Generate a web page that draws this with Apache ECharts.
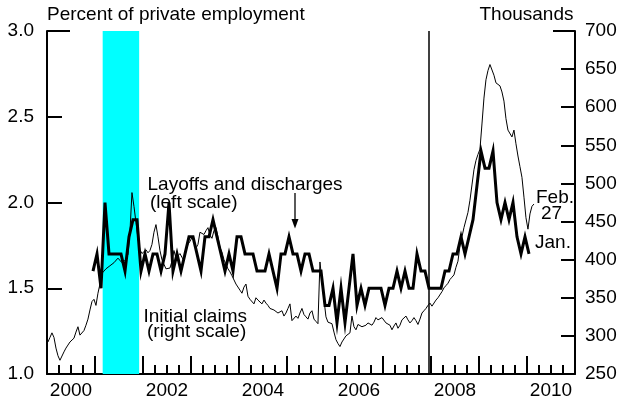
<!DOCTYPE html>
<html>
<head>
<meta charset="utf-8">
<script src="https://cdn.jsdelivr.net/npm/echarts@6/dist/echarts.min.js"></script>
<style>
  html, body { margin: 0; padding: 0; background: #fff; }
  #chart { width: 621px; height: 401px; }
</style>
</head>
<body>
<div id="chart"></div>
<script>
// year labels under the axis (every other one shown)
var years = ['2000', '2001', '2002', '2003', '2004', '2005', '2006', '2007', '2008', '2009', '2010'];

// layoffs and discharges, percent of private employment, monthly from Dec 2000
var layoffsStart = 2000 + 11.5 / 12;
var layoffs = [
  1.6,
  1.7, 1.5, 2.0, 1.7, 1.7, 1.7, 1.7, 1.6, 1.8, 1.9, 1.9, 1.6,
  1.7, 1.6, 1.7, 1.7, 1.6, 1.7, 2.0, 1.6, 1.7, 1.6, 1.7, 1.8,
  1.8, 1.7, 1.6, 1.8, 1.8, 1.9, 1.8, 1.7, 1.6, 1.7, 1.6, 1.8,
  1.8, 1.7, 1.7, 1.7, 1.6, 1.6, 1.6, 1.7, 1.6, 1.5, 1.7, 1.7,
  1.8, 1.7, 1.7, 1.6, 1.7, 1.7, 1.6, 1.6, 1.6, 1.4, 1.4, 1.5,
  1.3, 1.5, 1.3, 1.5, 1.7, 1.4, 1.5, 1.4, 1.5, 1.5, 1.5, 1.5,
  1.4, 1.5, 1.5, 1.6, 1.5, 1.6, 1.5, 1.5, 1.7, 1.6, 1.6, 1.5,
  1.5, 1.5, 1.5, 1.6, 1.6, 1.7, 1.7, 1.8, 1.7, 1.8, 1.9, 2.1,
  2.3, 2.2, 2.2, 2.3, 2.0, 1.9, 2.0, 1.9, 2.0, 1.8, 1.7, 1.8,
  1.7
];

// initial claims, thousands, twice a month from Jan 2000 to Feb 27 2010
var claimsStart = 2000.02;
var claims2000 = [292, 298, 304, 298, 284, 274, 268, 268, 279, 284, 288, 292, 294, 297, 305, 312, 301, 303, 307, 314, 322, 334, 345, 348];
var claims2001 = [340, 356, 368, 382, 385, 388, 389, 392, 390, 396, 398, 402, 404, 396, 394, 400, 407, 437, 488, 470, 449, 428, 413, 408];
var claims2002 = [410, 413, 409, 412, 420, 436, 446, 430, 412, 400, 394, 388, 386, 389, 398, 412, 402, 400, 408, 403, 399, 412, 420, 424];
var claims2003 = [429, 425, 415, 420, 436, 438, 433, 438, 442, 432, 428, 438, 442, 430, 416, 410, 400, 394, 388, 384, 379, 380, 368, 366];
var claims2004 = [360, 356, 364, 368, 352, 348, 346, 342, 350, 347, 345, 342, 347, 343, 340, 336, 338, 334, 332, 330, 328, 333, 326, 330];
var claims2005 = [336, 342, 320, 318, 326, 323, 330, 336, 328, 325, 322, 330, 333, 322, 319, 316, 397, 372, 348, 325, 318, 317, 316, 305];
var claims2006 = [295, 290, 286, 292, 296, 300, 301, 304, 326, 312, 308, 315, 315, 312, 313, 314, 317, 316, 314, 318, 324, 321, 320, 324];
var claims2007 = [322, 317, 319, 314, 308, 313, 317, 310, 314, 321, 323, 326, 321, 317, 320, 324, 320, 315, 322, 330, 333, 336, 340, 343];
var claims2008 = [339, 341, 347, 350, 352, 358, 363, 366, 369, 374, 377, 380, 390, 398, 418, 430, 442, 452, 462, 478, 498, 518, 530, 538];
var claims2009 = [545, 578, 612, 636, 648, 656, 658, 642, 632, 633, 628, 620, 608, 585, 570, 568, 561, 570, 552, 536, 522, 508, 482, 455];
var claims2010 = [440, 460, 470, 473];
var claims = [].concat(claims2000, claims2001, claims2002, claims2003, claims2004,
  claims2005, claims2006, claims2007, claims2008, claims2009, claims2010);

// recession shading and the December 2007 line
var recession = [2001.16, 2001.92];
var recessionStart2007 = 2007.96;

var layoffsData = layoffs.map(function (v, i) { return [layoffsStart + i / 12, v]; });
var claimsData = claims.map(function (v, i) { return [claimsStart + i / 24, v]; });

var FONT = 'Liberation Sans, Arial, sans-serif';
var txt = function (text, x, y, align) {
  return {
    type: 'text', x: x, y: y, silent: true,
    style: { text: text, font: '19px ' + FONT, fill: '#000', textAlign: align || 'left', textVerticalAlign: 'middle' }
  };
};

var chart = echarts.init(document.getElementById('chart'));
chart.setOption({
  animation: false,
  grid: { left: 47, right: 46, top: 31, bottom: 27 },
  xAxis: [
    {
      type: 'value', min: 2000, max: 2011, interval: 1, position: 'bottom',
      axisLine: { show: true, lineStyle: { color: '#000', width: 2 } },
      axisTick: { show: true, inside: true, length: 18, lineStyle: { color: '#000', width: 2 } },
      minorTick: { show: true, splitNumber: 4, length: 9, lineStyle: { color: '#000', width: 2 } },
      axisLabel: { show: false },
      splitLine: { show: false }
    },
    {
      type: 'category', data: years, position: 'bottom', boundaryGap: true,
      axisLine: { show: false }, axisTick: { show: false },
      axisLabel: { interval: 1, margin: 7, color: '#000', fontSize: 19, fontFamily: FONT },
      splitLine: { show: false }
    }
  ],
  yAxis: [
    {
      type: 'value', min: 1, max: 3, interval: 0.5, position: 'left',
      axisLine: { show: true, lineStyle: { color: '#000', width: 2 } },
      axisTick: { show: true, inside: true, length: 15, lineStyle: { color: '#000', width: 2 } },
      axisLabel: { margin: 13, color: '#000', fontSize: 19, fontFamily: FONT,
        formatter: function (v) { return v.toFixed(1); } },
      splitLine: { show: false }
    },
    {
      type: 'value', min: 250, max: 700, interval: 50, position: 'right',
      axisLine: { show: true, lineStyle: { color: '#000', width: 2 } },
      axisTick: { show: true, inside: true, length: 14, lineStyle: { color: '#000', width: 2 } },
      axisLabel: { margin: 10, color: '#000', fontSize: 19, fontFamily: FONT },
      splitLine: { show: false }
    }
  ],
  series: [
    {
      type: 'line', data: [], z: 1, silent: true,
      markArea: {
        silent: true,
        itemStyle: { color: '#00ffff', opacity: 1 },
        data: [[{ xAxis: recession[0] }, { xAxis: recession[1] }]]
      },
      markLine: {
        silent: true, symbol: 'none', label: { show: false },
        lineStyle: { color: '#000', width: 1.5, type: 'solid' },
        data: [{ xAxis: recessionStart2007 }]
      }
    },
    {
      name: 'Initial claims', type: 'line', xAxisIndex: 0, yAxisIndex: 1, z: 3,
      data: claimsData, showSymbol: false, silent: true,
      lineStyle: { color: '#000', width: 1 }
    },
    {
      name: 'Layoffs and discharges', type: 'line', xAxisIndex: 0, yAxisIndex: 0, z: 4,
      data: layoffsData, showSymbol: false, silent: true,
      lineStyle: { color: '#000', width: 3, join: 'miter' }
    }
  ],
  graphic: [
    txt('Percent of private employment', 47, 15),
    txt('Thousands', 573.5, 15, 'right'),
    txt('Layoffs and discharges', 147.5, 185),
    txt('(left scale)', 150, 203),
    txt('Initial claims', 143.5, 317),
    txt('(right scale)', 147, 332),
    txt('Feb.', 536, 198),
    txt('27', 541, 214),
    txt('Jan.', 535, 243),
    // longer top ticks
    { type: 'line', silent: true, shape: { x1: 47, y1: 31, x2: 70, y2: 31 }, style: { stroke: '#000', lineWidth: 2 } },
    { type: 'line', silent: true, shape: { x1: 553, y1: 31, x2: 575, y2: 31 }, style: { stroke: '#000', lineWidth: 2 } },
    // arrow to the layoffs series
    { type: 'line', silent: true, shape: { x1: 295, y1: 193, x2: 295, y2: 221 }, style: { stroke: '#000', lineWidth: 1.3 } },
    { type: 'polygon', silent: true, shape: { points: [[291.5, 219], [298.5, 219], [295, 228.5]] }, style: { fill: '#000' } }
  ]
});
</script>
</body>
</html>
